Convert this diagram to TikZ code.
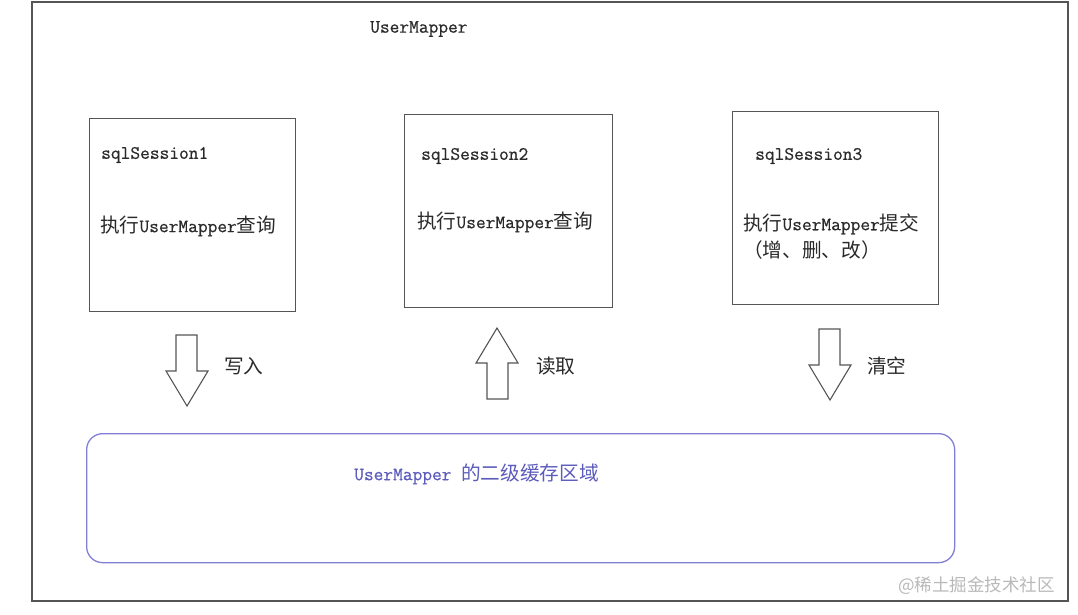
\documentclass[tikz,border=0pt]{standalone}
\usepackage{fontspec}
\setmainfont{Latin Modern Mono}[FakeBold=0.6]
\newfontfamily\cjk{Noto Sans CJK SC}[Scale=1.04]
\newfontfamily\wmfont{Noto Sans CJK SC}
\definecolor{linegray}{HTML}{555555}
\definecolor{txtgray}{HTML}{2A2A2A}
\definecolor{cacheline}{RGB}{130,128,212}
\definecolor{cachetxt}{RGB}{92,92,188}
\begin{document}
\begin{tikzpicture}[x=1pt,y=-1pt,
  frame/.style={draw=linegray,line width=1.5pt},
  sbox/.style={draw=linegray,line width=1.3pt,anchor=north west,inner sep=0pt},
  lbl/.style={anchor=west,inner sep=0pt,text=txtgray,font=\fontsize{18.9}{22}\selectfont},
  blockarrow/.style={draw=linegray,line width=1.1pt,fill=white,line join=miter},
  cachebox/.style={draw=cacheline,line width=1.3pt,rounded corners=16pt,anchor=north west,inner sep=0pt},
  cachelbl/.style={anchor=west,inner sep=0pt,text=cachetxt,font=\fontsize{18.9}{22}\selectfont},
  wmark/.style={anchor=west,inner sep=0pt,text=gray!55,font=\wmfont\fontsize{17.5}{21}\selectfont}]
\useasboundingbox (0,0) rectangle (1078,614);
\fill[white] (0,0) rectangle (1078,614);
% outer frame
\node[frame,anchor=north west,inner sep=0pt,minimum width=1036pt,minimum height=599pt] (outer) at (31,1) {};
\node[lbl] (title) at (370,29) {UserMapper};
% session boxes
\node[sbox,minimum width=206pt,minimum height=193pt] (s1) at (89,118) {};
\node[sbox,minimum width=208pt,minimum height=193pt] (s2) at (404,114) {};
\node[sbox,minimum width=206pt,minimum height=193pt] (s3) at (732,111) {};
\node[lbl] (s1name) at (101,155) {sqlSession1};
\node[lbl] (s1txt) at (100,226) {{\cjk 执行}UserMapper{\cjk 查询}};
\node[lbl] (s2name) at (421,156) {sqlSession2};
\node[lbl] (s2txt) at (417,222) {{\cjk 执行}UserMapper{\cjk 查询}};
\node[lbl] (s3name) at (755,156) {sqlSession3};
\node[lbl] (s3txt) at (743,224) {{\cjk 执行}UserMapper{\cjk 提交}};
\node[lbl] (s3sub) at (743,250) {{\cjk （增、删、改）}};
% block arrows
\draw[blockarrow] (176,335) -- (197,335) -- (197,371) -- (208,371) -- (187,406) -- (166,371) -- (176,371) -- cycle;
\draw[blockarrow] (497,328) -- (518,363) -- (508,363) -- (508,399) -- (487,399) -- (487,363) -- (476,363) -- cycle;
\draw[blockarrow] (819,329) -- (840,329) -- (840,365) -- (851,365) -- (830,400) -- (809,365) -- (819,365) -- cycle;
\node[lbl] (w) at (224,366) {{\cjk 写入}};
\node[lbl] (r) at (536,366) {{\cjk 读取}};
\node[lbl] (c) at (867,366) {{\cjk 清空}};
% cache region
\node[cachebox,minimum width=868pt,minimum height=129pt] (cache) at (86,433) {};
\node[cachelbl] (cachename) at (354,474) {UserMapper {\cjk 的二级缓存区域}};
% watermark
\node[wmark] (wm) at (898,586) {@稀土掘金技术社区};
\end{tikzpicture}
\end{document}
